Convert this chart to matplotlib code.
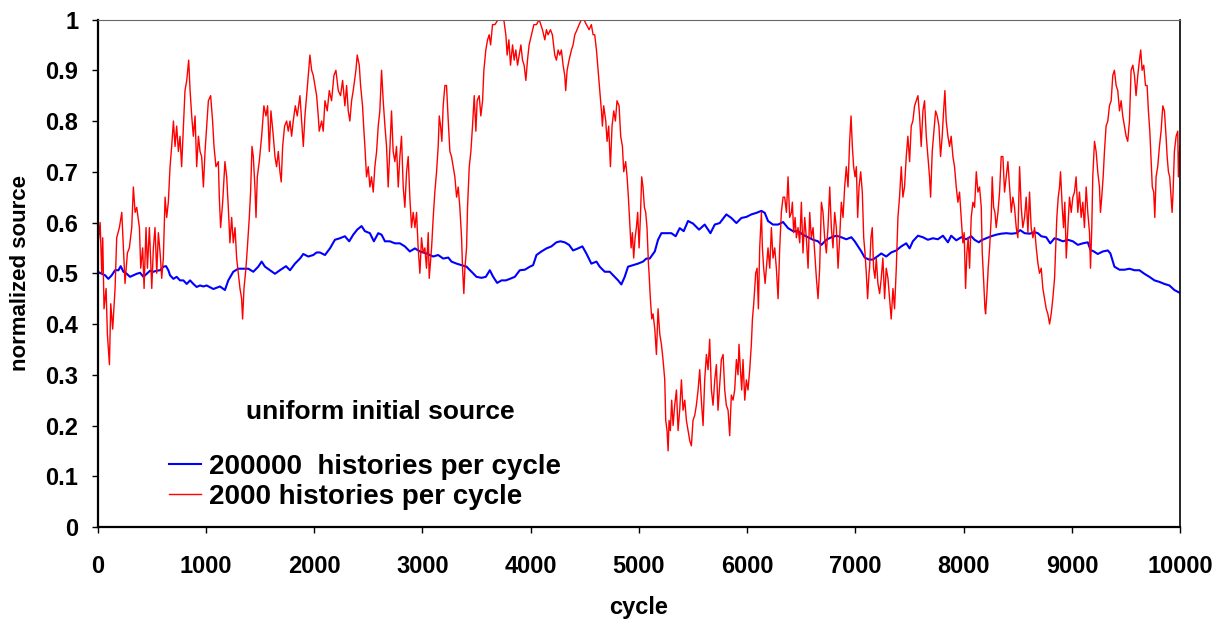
import matplotlib
matplotlib.use("Agg")
import matplotlib.pyplot as plt

plt.rcParams['font.family'] = ['Liberation Sans', 'DejaVu Sans']
plt.rcParams['font.weight'] = 'bold'

# 2000 histories per cycle
red_cycle = [
    0, 22, 37, 46, 58, 77, 89, 108, 120, 138, 160, 175, 200, 222, 237, 252, 274, 292, 314, 329,
    345, 360, 385, 397, 415, 428, 446, 459, 477, 499, 514, 529, 545, 560, 576, 591, 606, 622, 637, 652,
    668, 683, 699, 714, 729, 745, 760, 775, 791, 806, 822, 840, 853, 868, 883, 899, 914, 930, 945, 960,
    976, 991, 1006, 1022, 1043, 1061, 1074, 1092, 1114, 1123, 1135, 1154, 1175, 1191, 1206, 1221, 1237, 1252, 1268, 1283,
    1298, 1314, 1329, 1338, 1351, 1369, 1382, 1400, 1412, 1425, 1437, 1452, 1462, 1474, 1492, 1514, 1535, 1554, 1569, 1585,
    1600, 1622, 1637, 1652, 1668, 1683, 1695, 1708, 1726, 1745, 1760, 1776, 1791, 1806, 1825, 1843, 1868, 1883, 1899, 1914,
    1930, 1945, 1960, 1976, 1991, 2006, 2022, 2037, 2046, 2068, 2083, 2099, 2120, 2139, 2160, 2182, 2200, 2222, 2243, 2262,
    2283, 2299, 2314, 2329, 2345, 2360, 2385, 2397, 2416, 2428, 2446, 2459, 2468, 2483, 2499, 2514, 2529, 2545, 2560, 2576,
    2591, 2606, 2622, 2637, 2653, 2668, 2683, 2699, 2714, 2729, 2745, 2760, 2776, 2791, 2806, 2822, 2837, 2853, 2868, 2883,
    2899, 2914, 2930, 2945, 2960, 2976, 2991, 3006, 3022, 3037, 3053, 3062, 3084, 3099, 3114, 3130, 3145, 3155, 3167, 3179,
    3191, 3207, 3222, 3238, 3253, 3268, 3284, 3299, 3315, 3330, 3345, 3361, 3370, 3382, 3392, 3407, 3416, 3432, 3447, 3462,
    3478, 3493, 3505, 3524, 3539, 3555, 3567, 3585, 3601, 3616, 3629, 3647, 3669, 3699, 3730, 3751, 3770, 3782, 3798, 3813,
    3832, 3847, 3862, 3878, 3893, 3909, 3924, 3939, 3955, 3970, 3985, 4007, 4029, 4053, 4078, 4108, 4130, 4145, 4160, 4182,
    4200, 4222, 4237, 4253, 4268, 4283, 4299, 4314, 4323, 4336, 4354, 4376, 4391, 4407, 4428, 4447, 4468, 4490, 4514, 4539,
    4560, 4576, 4591, 4607, 4622, 4637, 4653, 4662, 4674, 4693, 4705, 4720, 4736, 4751, 4767, 4782, 4797, 4816, 4831, 4847,
    4859, 4877, 4890, 4902, 4914, 4927, 4939, 4951, 4964, 4976, 4988, 5001, 5013, 5025, 5037, 5050, 5062, 5074, 5087, 5093,
    5105, 5118, 5130, 5146, 5161, 5176, 5192, 5207, 5222, 5238, 5247, 5259, 5269, 5278, 5290, 5302, 5315, 5330, 5346, 5361,
    5376, 5392, 5407, 5423, 5438, 5453, 5469, 5484, 5499, 5515, 5530, 5546, 5561, 5576, 5592, 5607, 5623, 5638, 5653, 5669,
    5684, 5700, 5715, 5730, 5746, 5761, 5777, 5792, 5807, 5823, 5838, 5853, 5869, 5884, 5900, 5915, 5924, 5937, 5949, 5961,
    5977, 5992, 6007, 6023, 6038, 6048, 6060, 6078, 6091, 6103, 6115, 6131, 6140, 6152, 6165, 6177, 6192, 6208, 6223, 6238,
    6254, 6269, 6285, 6300, 6315, 6331, 6346, 6362, 6377, 6392, 6408, 6417, 6429, 6442, 6454, 6469, 6485, 6500, 6515, 6531,
    6546, 6562, 6577, 6592, 6608, 6623, 6639, 6654, 6669, 6685, 6700, 6715, 6731, 6746, 6762, 6777, 6792, 6808, 6823, 6839,
    6854, 6869, 6885, 6900, 6915, 6931, 6946, 6959, 6971, 6983, 6996, 7008, 7020, 7033, 7048, 7063, 7076, 7088, 7100, 7112,
    7125, 7130, 7143, 7155, 7167, 7180, 7192, 7207, 7223, 7238, 7253, 7269, 7284, 7300, 7315, 7330, 7346, 7361, 7377, 7392,
    7407, 7423, 7438, 7453, 7469, 7484, 7500, 7515, 7530, 7546, 7561, 7577, 7592, 7607, 7623, 7638, 7654, 7669, 7684, 7694,
    7709, 7721, 7740, 7755, 7771, 7786, 7801, 7814, 7826, 7838, 7854, 7869, 7884, 7900, 7915, 7931, 7946, 7961, 7977, 7992,
    8004, 8017, 8029, 8041, 8054, 8069, 8085, 8100, 8116, 8131, 8146, 8162, 8171, 8183, 8196, 8202, 8214, 8226, 8239, 8254,
    8263, 8276, 8288, 8300, 8316, 8331, 8346, 8362, 8377, 8393, 8408, 8423, 8439, 8454, 8469, 8485, 8500, 8516, 8531, 8546,
    8562, 8577, 8593, 8608, 8623, 8639, 8654, 8670, 8685, 8700, 8716, 8731, 8747, 8762, 8777, 8793, 8808, 8823, 8839, 8848,
    8860, 8873, 8885, 8894, 8910, 8922, 8934, 8947, 8962, 8977, 8993, 9008, 9023, 9038, 9054, 9069, 9085, 9100, 9115, 9131,
    9146, 9162, 9171, 9183, 9192, 9208, 9223, 9238, 9254, 9263, 9275, 9288, 9300, 9315, 9331, 9346, 9362, 9377, 9392, 9408,
    9423, 9439, 9454, 9469, 9485, 9500, 9515, 9531, 9546, 9562, 9577, 9592, 9608, 9623, 9635, 9648, 9663, 9679, 9694, 9706,
    9719, 9731, 9742, 9755, 9765, 9777, 9792, 9808, 9823, 9839, 9854, 9869, 9879, 9891, 9903, 9916, 9925, 9934, 9946, 9962,
    9977, 9983, 9996,
]
red_value = [
    .55, .60, .50, .57, .43, .47, .38, .32, .44, .39, .47, .57, .59, .62, .55, .48, .54, .55, .59, .67,
    .62, .63, .59, .51, .55, .47, .59, .51, .59, .47, .55, .59, .50, .58, .54, .49, .53, .65, .61, .64,
    .71, .75, .80, .75, .79, .74, .77, .71, .79, .86, .88, .92, .86, .81, .77, .81, .71, .77, .74, .73,
    .67, .74, .79, .84, .85, .80, .75, .71, .72, .65, .59, .64, .72, .69, .63, .56, .61, .56, .59, .53,
    .50, .47, .45, .41, .47, .51, .55, .61, .66, .75, .73, .67, .61, .69, .72, .77, .83, .81, .83, .74,
    .82, .77, .73, .71, .74, .70, .68, .75, .79, .80, .78, .80, .77, .80, .83, .81, .85, .80, .75, .81,
    .85, .89, .93, .90, .89, .87, .85, .81, .78, .80, .78, .84, .82, .86, .84, .89, .90, .86, .85, .88,
    .83, .87, .82, .80, .84, .86, .90, .93, .91, .87, .83, .78, .75, .69, .71, .67, .69, .66, .71, .74,
    .79, .82, .90, .84, .79, .75, .67, .75, .82, .74, .72, .75, .67, .73, .77, .67, .63, .70, .73, .65,
    .59, .62, .59, .62, .55, .50, .57, .54, .55, .51, .58, .49, .55, .61, .66, .70, .75, .81, .79, .76,
    .83, .87, .87, .80, .74, .73, .71, .69, .65, .67, .63, .57, .51, .46, .51, .55, .63, .71, .74, .79,
    .85, .78, .84, .85, .81, .84, .90, .94, .96, .97, .95, .99, .99, 1.0, 1.0, 1.0, .97, .93, .96, .91,
    .95, .92, .94, .91, .93, .95, .92, .91, .88, .92, .95, .97, .99, .99, 1.0, .98, .96, .98, .97, .98,
    .97, .93, .92, .94, .93, .94, .91, .89, .86, .90, .92, .94, .95, .97, .98, .99, 1.0, 1.0, .99, .98,
    .99, .97, .97, .94, .90, .86, .82, .79, .83, .80, .76, .79, .71, .79, .82, .80, .84, .83, .77, .75,
    .70, .72, .69, .65, .60, .55, .58, .53, .57, .59, .62, .55, .61, .69, .67, .63, .62, .59, .52, .50,
    .45, .41, .42, .39, .34, .43, .38, .36, .33, .29, .21, .19, .15, .21, .19, .25, .20, .24, .27, .19,
    .23, .29, .23, .25, .21, .19, .17, .16, .21, .22, .24, .27, .31, .25, .20, .29, .34, .31, .37, .27,
    .24, .29, .32, .23, .28, .33, .34, .27, .24, .23, .18, .26, .25, .27, .33, .30, .36, .31, .27, .33,
    .25, .29, .27, .31, .36, .41, .44, .50, .51, .43, .55, .62, .55, .51, .48, .51, .55, .51, .59, .53,
    .55, .51, .45, .55, .62, .65, .65, .62, .69, .61, .62, .64, .58, .61, .57, .59, .56, .64, .54, .61,
    .57, .51, .62, .57, .59, .54, .49, .45, .51, .64, .62, .57, .54, .59, .67, .59, .55, .62, .59, .51,
    .57, .64, .61, .67, .71, .67, .76, .81, .75, .71, .69, .71, .61, .67, .70, .66, .57, .54, .50, .45,
    .50, .51, .57, .59, .51, .49, .53, .48, .46, .49, .53, .45, .51, .49, .45, .41, .47, .43, .51, .61,
    .65, .71, .65, .67, .73, .77, .72, .79, .80, .83, .84, .85, .81, .75, .82, .84, .77, .73, .69, .65,
    .74, .77, .82, .81, .79, .73, .77, .82, .86, .80, .77, .75, .77, .73, .71, .67, .64, .66, .61, .56,
    .58, .47, .54, .57, .51, .61, .64, .63, .70, .66, .67, .63, .54, .49, .43, .42, .46, .51, .55, .61,
    .69, .63, .62, .59, .62, .66, .73, .73, .66, .69, .72, .67, .62, .65, .63, .59, .57, .71, .63, .59,
    .61, .65, .58, .66, .59, .57, .59, .55, .52, .50, .51, .47, .45, .43, .42, .40, .42, .45, .49, .54,
    .61, .65, .67, .70, .63, .59, .64, .53, .59, .65, .62, .65, .66, .69, .62, .66, .61, .64, .59, .67,
    .62, .58, .51, .59, .69, .76, .74, .70, .67, .62, .65, .69, .74, .79, .80, .83, .84, .89, .90, .87,
    .86, .82, .84, .81, .79, .77, .76, .80, .90, .91, .89, .85, .89, .92, .94, .90, .91, .87, .87, .82,
    .78, .72, .67, .66, .61, .69, .71, .75, .78, .83, .82, .77, .73, .70, .69, .65, .62, .66, .74, .77,
    .78, .69, .75,
]

# 200000 histories per cycle
blue_cycle = [
    0, 37, 68, 98, 129, 160, 191, 212, 237, 268, 298, 329, 360, 391, 422, 452, 483, 514, 545, 576,
    606, 631, 652, 668, 699, 729, 760, 791, 822, 853, 883, 914, 945, 976, 1006, 1068, 1129, 1175, 1206, 1252,
    1298, 1345, 1391, 1437, 1483, 1514, 1545, 1591, 1637, 1683, 1739, 1776, 1822, 1868, 1899, 1945, 1991, 2022, 2052, 2099,
    2145, 2191, 2237, 2283, 2323, 2360, 2397, 2437, 2468, 2514, 2551, 2591, 2622, 2653, 2699, 2745, 2791, 2837, 2883, 2930,
    2976, 3038, 3099, 3145, 3191, 3238, 3268, 3315, 3361, 3407, 3453, 3499, 3545, 3585, 3622, 3653, 3690, 3730, 3770, 3807,
    3853, 3899, 3945, 3992, 4022, 4053, 4099, 4145, 4191, 4237, 4274, 4314, 4354, 4391, 4437, 4477, 4514, 4560, 4607, 4637,
    4684, 4730, 4776, 4807, 4837, 4868, 4899, 4945, 4991, 5037, 5068, 5099, 5146, 5176, 5207, 5253, 5299, 5339, 5376, 5413,
    5453, 5499, 5555, 5607, 5660, 5700, 5746, 5807, 5853, 5900, 5946, 5992, 6038, 6084, 6131, 6162, 6192, 6238, 6285, 6331,
    6377, 6423, 6469, 6515, 6562, 6608, 6654, 6685, 6731, 6777, 6823, 6869, 6915, 6962, 6993, 7023, 7054, 7085, 7125, 7161,
    7207, 7238, 7284, 7330, 7377, 7423, 7469, 7500, 7530, 7577, 7623, 7669, 7715, 7761, 7808, 7854, 7884, 7931, 7977, 8023,
    8069, 8100, 8140, 8162, 8208, 8254, 8300, 8346, 8393, 8439, 8485, 8522, 8562, 8608, 8654, 8685, 8716, 8762, 8799, 8839,
    8870, 8916, 8962, 9008, 9054, 9100, 9146, 9171, 9202, 9238, 9285, 9331, 9355, 9392, 9439, 9485, 9531, 9577, 9623, 9669,
    9715, 9762, 9808, 9854, 9900, 9946, 10000,
]
blue_value = [
    .503, .499, .496, .489, .496, .506, .506, .514, .503, .499, .493, .496, .499, .501, .493, .499, .505, .503, .505, .506,
    .513, .514, .506, .496, .489, .493, .486, .486, .479, .486, .479, .473, .476, .474, .476, .469, .474, .467, .486, .503,
    .509, .509, .509, .503, .513, .523, .513, .506, .499, .506, .514, .506, .519, .529, .538, .533, .536, .541, .541, .536,
    .549, .566, .569, .573, .563, .576, .586, .593, .583, .579, .563, .579, .576, .563, .563, .559, .559, .553, .543, .549,
    .543, .539, .533, .536, .529, .531, .523, .519, .516, .513, .503, .493, .491, .493, .506, .493, .481, .486, .486, .489,
    .493, .506, .507, .513, .516, .536, .543, .549, .553, .561, .563, .561, .556, .545, .549, .553, .539, .519, .523, .513,
    .503, .503, .493, .486, .478, .493, .513, .516, .519, .523, .529, .529, .543, .566, .579, .579, .579, .573, .589, .583,
    .603, .598, .586, .596, .579, .596, .599, .616, .609, .599, .609, .611, .616, .619, .623, .619, .603, .596, .596, .601,
    .589, .583, .583, .576, .571, .566, .563, .556, .566, .571, .574, .571, .567, .571, .563, .553, .543, .531, .527, .527,
    .534, .539, .533, .541, .545, .553, .559, .549, .563, .574, .571, .566, .569, .567, .574, .561, .574, .565, .571, .567,
    .573, .566, .561, .565, .569, .573, .576, .578, .579, .578, .579, .585, .579, .578, .581, .579, .573, .571, .559, .569,
    .567, .563, .566, .563, .556, .559, .561, .546, .543, .538, .543, .545, .539, .513, .507, .507, .509, .506, .506, .499,
    .493, .486, .483, .479, .476, .467, .461,
]

x_ticks = list(range(0, 10001, 1000))
y_ticks = [0, 0.1, 0.2, 0.3, 0.4, 0.5, 0.6, 0.7, 0.8, 0.9, 1]
y_tick_labels = ["0", "0.1", "0.2", "0.3", "0.4", "0.5", "0.6", "0.7", "0.8", "0.9", "1"]

fig = plt.figure(figsize=(12.28, 6.22), dpi=100)
ax = fig.add_axes([0.0796, 0.1527, 0.8815, 0.8159])

ax.plot(blue_cycle, blue_value, color="#0000ff", lw=1.5, label="200000  histories per cycle")
ax.plot(red_cycle, red_value, color="#ff0000", lw=1.0, label="2000 histories per cycle")

ax.set_xlim(0, 10000)
ax.set_ylim(0, 1)
ax.set_xticks(x_ticks)
ax.set_yticks(y_ticks)
ax.set_yticklabels(y_tick_labels)
ax.tick_params(axis="both", direction="out", length=4, width=1, labelsize=17)
ax.tick_params(axis="x", pad=16)
ax.tick_params(axis="y", pad=10)

for s in ["left", "bottom"]:
    ax.spines[s].set_linewidth(1.6)
ax.spines["right"].set_linewidth(1.2)
ax.spines["top"].set_color("#666666")

ax.set_xlabel("cycle", fontsize=17, fontweight="bold")
ax.xaxis.set_label_coords(0.5, -0.136)
ax.set_ylabel("normalized source", fontsize=16, fontweight="bold")
ax.yaxis.set_label_coords(-0.062, 0.5)

ax.text(0.261, 0.227, "uniform initial source", transform=ax.transAxes,
        ha="center", va="center", fontsize=19, fontweight="bold")

ax.legend(loc="upper left", bbox_to_anchor=(0.066, 0.144), frameon=False,
          fontsize=20, handlelength=1.15, handletextpad=0.29, labelspacing=0.15,
          borderpad=0, borderaxespad=0)

fig.savefig("out.png", dpi=100)
